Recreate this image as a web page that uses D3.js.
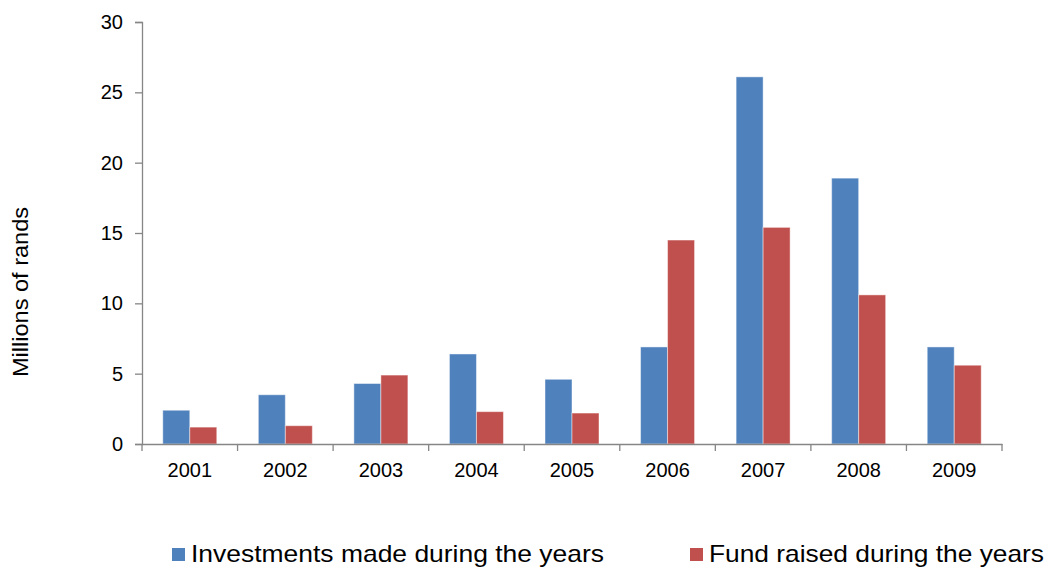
<!DOCTYPE html>
<html>
<head>
<meta charset="utf-8">
<script src="https://cdn.jsdelivr.net/npm/d3@7"></script>
<style>
body{margin:0;background:#fff;}
svg{display:block;font-family:"Liberation Sans",Arial,sans-serif;}
</style>
</head>
<body>
<svg id="chart" width="1048" height="570"></svg>
<script>
const years = ["2001","2002","2003","2004","2005","2006","2007","2008","2009"];
const investments = [2.4,3.5,4.3,6.4,4.6,6.9,26.1,18.9,6.9];
const fundRaised = [1.2,1.3,4.9,2.3,2.2,14.5,15.4,10.6,5.6];
const seriesNames = ["Investments made during the years","Fund raised during the years"];
const yTicks = [0,5,10,15,20,25,30];

const colors = ["#4F81BD","#C0504D"];
const svg = d3.select("#chart");
const mLeft = 142, mRight = 1002, mTop = 22, mBottom = 444;

const x = d3.scaleBand().domain(years).range([mLeft,mRight]).paddingInner(0.435).paddingOuter(0.2175);
const x0 = d3.scaleBand().domain(years).range([mLeft,mRight]).padding(0);
const x1 = d3.scaleBand().domain([0,1]).range([0,x.bandwidth()]);
const y = d3.scaleLinear().domain([0,30]).range([mBottom,mTop]);

const series = [investments,fundRaised];
series.forEach((vals,si)=>{
  svg.append("g").selectAll("rect").data(vals).join("rect")
    .attr("x",(d,i)=>x(years[i])+x1(si))
    .attr("y",d=>y(d))
    .attr("width",x1.bandwidth())
    .attr("height",d=>mBottom-y(d))
    .attr("fill",colors[si])
    .attr("stroke","rgba(255,255,255,0.45)")
    .attr("stroke-width",1);
});

// y axis
const yAxis = svg.append("g").attr("transform",`translate(${mLeft},0)`)
  .call(d3.axisLeft(y).tickValues(yTicks).tickSize(7).tickPadding(12));
yAxis.select(".domain").attr("stroke","#868686").attr("stroke-width",1.3);
yAxis.selectAll(".tick line").attr("stroke","#868686").attr("stroke-width",1.3);
yAxis.selectAll(".tick text").attr("font-size",20).attr("fill","#000").attr("font-family","Liberation Sans, Arial, sans-serif");

// x axis
const xAxis = svg.append("g").attr("transform",`translate(0,${mBottom})`)
  .call(d3.axisBottom(x0).tickSize(0).tickPadding(19).tickSizeOuter(0));
xAxis.select(".domain").attr("stroke","#868686").attr("stroke-width",1.3);
xAxis.selectAll(".tick text").attr("font-size",20).attr("fill","#000").attr("font-family","Liberation Sans, Arial, sans-serif");
// boundary tick marks
const bounds = years.map(d=>x0(d)).concat([mRight]);
svg.append("g").selectAll("line").data(bounds).join("line")
  .attr("x1",d=>d).attr("x2",d=>d).attr("y1",mBottom).attr("y2",mBottom+7)
  .attr("stroke","#868686").attr("stroke-width",1.3);

// y label
svg.append("text").attr("transform","translate(28,292) rotate(-90)")
  .attr("text-anchor","middle").attr("font-size",22).attr("fill","#000")
  .attr("textLength",170).attr("lengthAdjust","spacingAndGlyphs")
  .text("Millions of rands");

// legend
const legendX = [172,690];
const legendLen = [413,335];
seriesNames.forEach((n,i)=>{
  const g = svg.append("g").attr("transform",`translate(${legendX[i]},0)`);
  g.append("rect").attr("x",0).attr("y",548).attr("width",13).attr("height",13).attr("fill",colors[i]);
  g.append("text").attr("x",19).attr("y",562).attr("font-size",24).attr("fill","#000")
    .attr("textLength",legendLen[i]).attr("lengthAdjust","spacingAndGlyphs").text(n);
});
</script>
</body>
</html>
